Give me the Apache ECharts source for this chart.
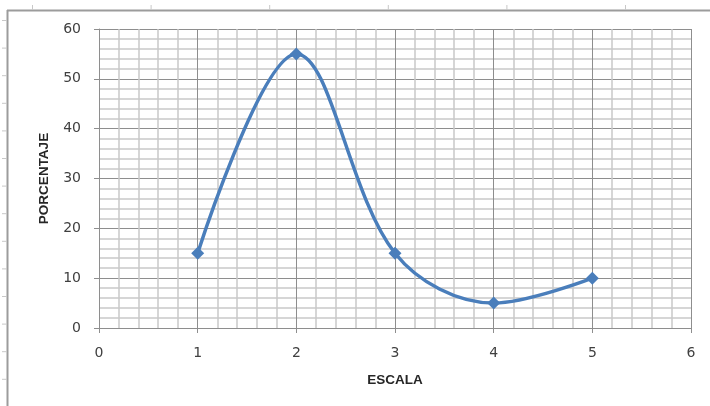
<!DOCTYPE html>
<html>
<head>
<meta charset="utf-8">
<script src="https://cdn.jsdelivr.net/npm/echarts@6/dist/echarts.min.js"></script>
<style>
  html, body { margin: 0; padding: 0; background: #fff; }
  #chart { width: 710px; height: 406px; }
</style>
</head>
<body>
<div id="chart"></div>
<script>
// Scale points and the percentage recorded at each
const escala = [1, 2, 3, 4, 5];
const porcentaje = [15, 55, 15, 5, 10];

const xTitle = 'ESCALA';
const yTitle = 'PORCENTAJE';

const chart = echarts.init(document.getElementById('chart'), null, { renderer: 'canvas' });

const labelColor = '#404040';
const majorGrid = '#8e8e8e';
const minorGrid = '#c9c9c9';
const seriesBlue = '#4a7ebb';

// Frame of the surrounding chart box
const frame = [
  { type: 'line', shape: { x1: 7, y1: 10.5, x2: 710, y2: 10.5 }, style: { stroke: '#9c9c9c', lineWidth: 2 } },
  { type: 'line', shape: { x1: 7.5, y1: 10, x2: 7.5, y2: 406 }, style: { stroke: '#9c9c9c', lineWidth: 2 } }
];
for (let i = 0; i < 6; i++) {
  const x = 32.5 + i * 118.6;
  frame.push({ type: 'line', shape: { x1: x, y1: 5, x2: x, y2: 10 }, style: { stroke: '#c8c8c8', lineWidth: 1 } });
}
for (let i = 0; i < 14; i++) {
  const y = 20.5 + i * 27.6;
  frame.push({ type: 'line', shape: { x1: 2, y1: y, x2: 7, y2: y }, style: { stroke: '#c8c8c8', lineWidth: 1 } });
}

chart.setOption({
  animation: false,
  backgroundColor: '#ffffff',
  grid: { left: 99, right: 19, top: 29, bottom: 78, containLabel: false },
  xAxis: {
    type: 'value',
    min: 0, max: 6, interval: 1,
    name: xTitle,
    nameLocation: 'middle',
    nameGap: 45,
    nameTextStyle: { fontFamily: 'Liberation Sans', fontWeight: 'bold', fontSize: 13.5, color: '#262626' },
    axisLine: { show: true, lineStyle: { color: majorGrid, width: 1 } },
    axisTick: { show: true, length: 5, lineStyle: { color: majorGrid } },
    axisLabel: { margin: 18, fontFamily: 'DejaVu Sans', fontSize: 14, color: labelColor },
    splitLine: { show: true, lineStyle: { color: majorGrid, width: 1 } },
    minorTick: { show: false, splitNumber: 5 },
    minorSplitLine: { show: true, lineStyle: { color: minorGrid, width: 1.5 } }
  },
  yAxis: {
    type: 'value',
    min: 0, max: 60, interval: 10,
    name: yTitle,
    nameLocation: 'middle',
    nameGap: 48,
    nameRotate: 90,
    nameTextStyle: { fontFamily: 'Liberation Sans', fontWeight: 'bold', fontSize: 13.5, color: '#262626' },
    axisLine: { show: true, lineStyle: { color: majorGrid, width: 1 } },
    axisTick: { show: true, length: 5, lineStyle: { color: majorGrid } },
    axisLabel: { margin: 18, fontFamily: 'DejaVu Sans', fontSize: 14, color: labelColor },
    splitLine: { show: true, lineStyle: { color: majorGrid, width: 1 } },
    minorTick: { show: false, splitNumber: 5 },
    minorSplitLine: { show: true, lineStyle: { color: minorGrid, width: 1.5 } }
  },
  series: [{
    type: 'line',
    data: escala.map((x, i) => [x, porcentaje[i]]),
    smooth: 0.35,
    symbol: 'diamond',
    symbolSize: 13,
    lineStyle: { color: seriesBlue, width: 3.5 },
    itemStyle: { color: seriesBlue },
    z: 5
  }],
  graphic: frame
});
</script>
</body>
</html>
